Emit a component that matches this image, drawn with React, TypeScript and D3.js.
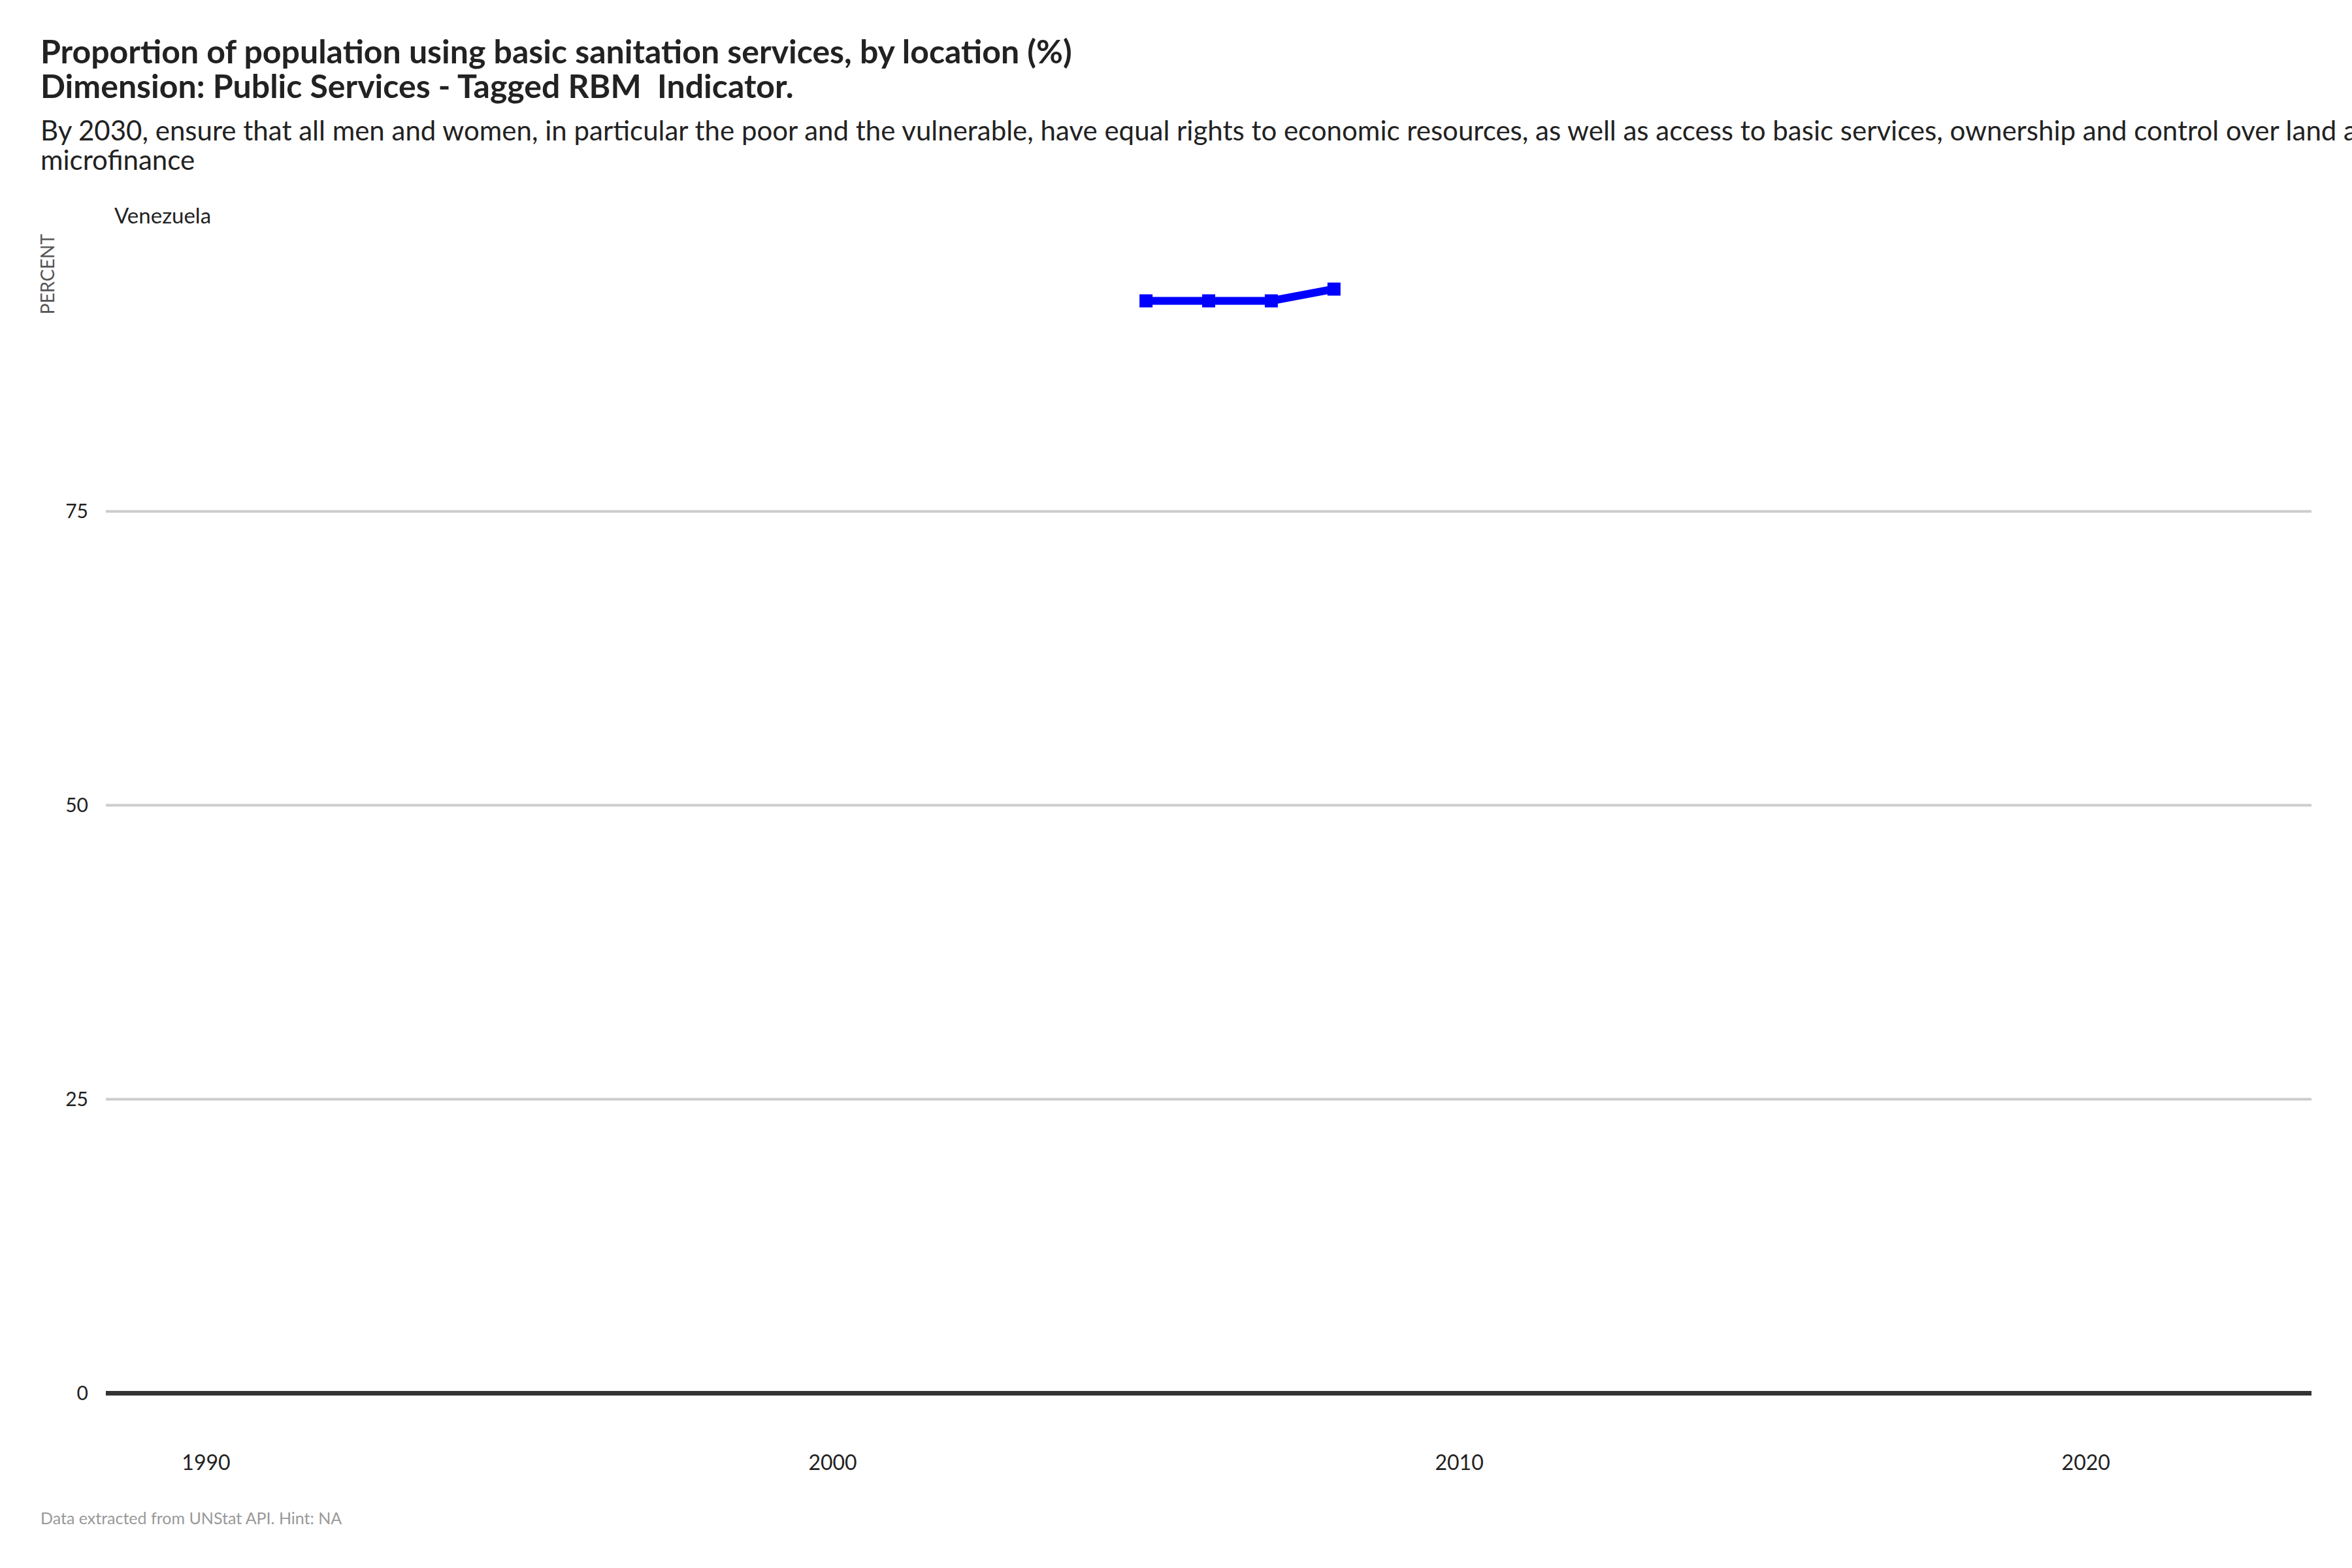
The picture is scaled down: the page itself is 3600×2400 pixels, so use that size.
import { useEffect, useRef } from 'react';
import * as d3 from 'd3';

const years = [2005, 2006, 2007, 2008];
const values = [92.9, 92.9, 92.9, 93.9];
const yTicks = [0, 25, 50, 75];
const xTicks = [1990, 2000, 2010, 2020];
const xExtent = [1990, 2022];

const titleLines = [
    'Proportion of population using basic sanitation services, by location (%)',
    'Dimension: Public Services - Tagged RBM  Indicator.'
];
const subtitleLines = [
    'By 2030, ensure that all men and women, in particular the poor and the vulnerable, have equal rights to economic resources, as well as access to basic services, ownership and control over land and other forms of property, inheritance, natural resources, appropriate new technology and financial services, including',
    'microfinance'
];
const panelLabel = 'Venezuela';
const yLabel = 'PERCENT';
const caption = 'Data extracted from UNStat API. Hint: NA';

export default function App() {
    const svgRef = useRef<SVGSVGElement>(null);
    const width = 3600;
    const height = 2400;

    useEffect(() => {
        if (!svgRef.current) return;
        const svg = d3.select(svgRef.current);
        svg.selectAll('*').remove();

        const font = 'Lato, "Open Sans", sans-serif';
        const plot = { left: 162, right: 3538, top: 358, bottom: 2217 };

        // escalas com expansao de 5% como no original
        const xPad = (xExtent[1] - xExtent[0]) * 0.05;
        const xScale = d3.scaleLinear()
            .domain([xExtent[0] - xPad, xExtent[1] + xPad])
            .range([plot.left, plot.right]);

        const yMax = d3.max(values) || 100;
        const yPad = yMax * 0.05;
        const yScale = d3.scaleLinear()
            .domain([-yPad, yMax + yPad])
            .range([plot.bottom, plot.top]);

        svg.append('rect')
            .attr('width', width)
            .attr('height', height)
            .attr('fill', 'white');

        // titulo
        svg.append('g').selectAll('text')
            .data(titleLines)
            .enter()
            .append('text')
            .attr('x', 62)
            .attr('y', (_, i) => 97 + i * 53)
            .style('font-family', font)
            .style('font-weight', 700)
            .style('font-size', '50px')
            .style('white-space', 'pre')
            .style('fill', '#222')
            .text(d => d);

        svg.append('g').selectAll('text')
            .data(subtitleLines)
            .enter()
            .append('text')
            .attr('x', 62)
            .attr('y', (_, i) => 215 + i * 45)
            .style('font-family', font)
            .style('font-size', '42px')
            .style('fill', '#222')
            .text(d => d);

        // grid horizontal
        const g = svg.append('g');
        g.selectAll('.grid')
            .data(yTicks.filter(t => t !== 0))
            .enter()
            .append('line')
            .attr('x1', plot.left)
            .attr('x2', plot.right)
            .attr('y1', d => yScale(d))
            .attr('y2', d => yScale(d))
            .attr('stroke', '#cccccc')
            .attr('stroke-width', 4);

        g.append('line')
            .attr('x1', plot.left)
            .attr('x2', plot.right)
            .attr('y1', yScale(0))
            .attr('y2', yScale(0))
            .attr('stroke', '#333333')
            .attr('stroke-width', 7);

        // eixo Y
        g.selectAll('.ytick')
            .data(yTicks)
            .enter()
            .append('text')
            .attr('x', 135)
            .attr('y', d => yScale(d))
            .attr('dy', '0.35em')
            .attr('text-anchor', 'end')
            .style('font-family', font)
            .style('font-size', '30px')
            .style('fill', '#222')
            .text(d => d);

        // eixo X
        g.selectAll('.xtick')
            .data(xTicks)
            .enter()
            .append('text')
            .attr('x', d => xScale(d))
            .attr('y', 2239)
            .attr('dy', '0.35em')
            .attr('text-anchor', 'middle')
            .style('font-family', font)
            .style('font-size', '32px')
            .style('fill', '#222')
            .text(d => d);

        svg.append('text')
            .attr('transform', `translate(83, ${plot.top}) rotate(-90)`)
            .attr('text-anchor', 'end')
            .style('font-family', font)
            .style('font-size', '28px')
            .style('fill', '#555')
            .text(yLabel);

        svg.append('text')
            .attr('x', 175)
            .attr('y', 342)
            .style('font-family', font)
            .style('font-size', '33px')
            .style('fill', '#222')
            .text(panelLabel);

        // linha
        const pts = years.map((y, i) => ({ year: y, value: values[i] }));
        const line = d3.line<{ year: number; value: number }>()
            .x(d => xScale(d.year))
            .y(d => yScale(d.value));

        g.append('path')
            .datum(pts)
            .attr('fill', 'none')
            .attr('stroke', '#0000ff')
            .attr('stroke-width', 12)
            .attr('d', line);

        g.selectAll('.pt')
            .data(pts)
            .enter()
            .append('rect')
            .attr('x', d => xScale(d.year) - 10)
            .attr('y', d => yScale(d.value) - 10)
            .attr('width', 20)
            .attr('height', 20)
            .attr('fill', '#0000ff');

        svg.append('text')
            .attr('x', 62)
            .attr('y', 2333)
            .style('font-family', font)
            .style('font-size', '25px')
            .style('fill', '#999')
            .text(caption);
    }, []);

    return (
        <svg
            ref={svgRef}
            width={width}
            height={height}
            style={{ position: 'absolute', left: 0, top: 0 }}
        />
    );
}
